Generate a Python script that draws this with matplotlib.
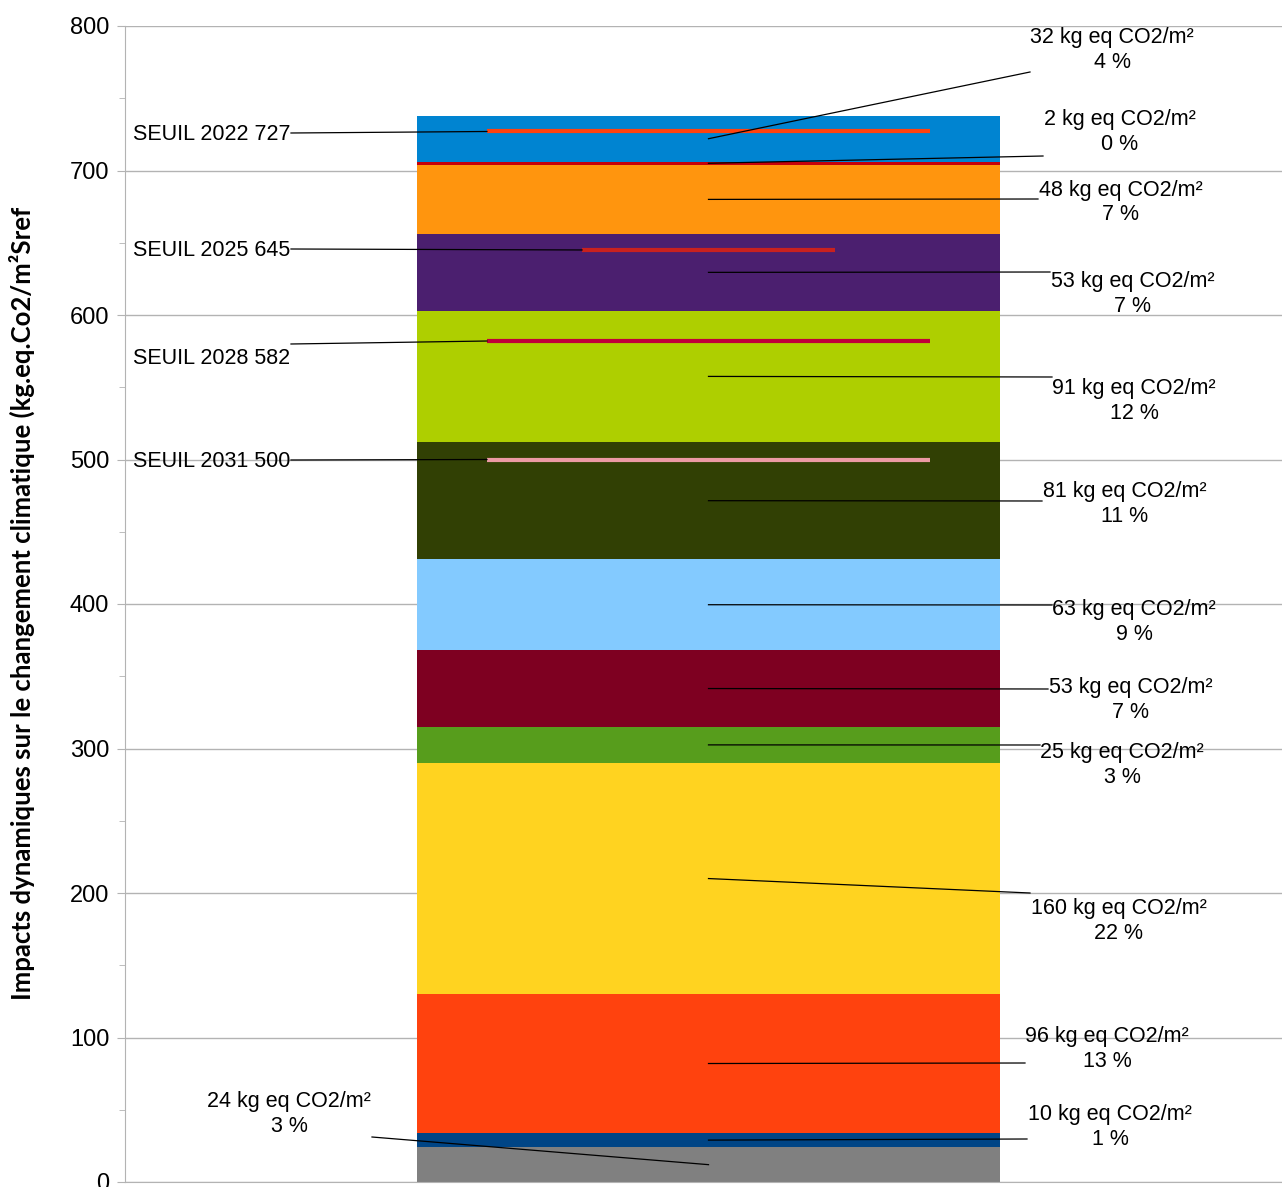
import matplotlib
matplotlib.use("Agg")
import matplotlib.pyplot as plt
from matplotlib.ticker import MultipleLocator

# segment values, bottom to top (kg eq CO2/m²)
values = [24, 10, 96, 160, 25, 53, 63, 81, 91, 53, 48, 2, 32]
percents = [3, 1, 13, 22, 3, 7, 9, 11, 12, 7, 7, 0, 4]
colors = ['#808080', '#004586', '#ff420e', '#ffd320', '#579d1c', '#7e0021',
          '#83caff', '#314004', '#aecf00', '#4b1f6f', '#ff950e', '#c5000b', '#0084d1']

# thresholds
seuil_years = [2022, 2025, 2028, 2031]
seuil_values = [727, 645, 582, 500]
seuil_colors = ['#ff420e', '#c9211e', '#c0003a', '#ec9ba4']
seuil_halfwidth = [0.38, 0.217, 0.38, 0.38]

# label placement (pixel positions in the original picture)
label_pos = [(289, 1112.5), (1110, 1125.5), (1107, 1047.5), (1119, 919.5), (1122, 763.5),
             (1131, 698.5), (1134, 620.5), (1125, 502.5), (1134, 399.5), (1133, 292.5),
             (1121, 201), (1120, 130.5), (1112, 48.5)]
leader_end = [(372, 1137), (1027, 1139), (1025, 1063), (1030, 893), (1040, 745),
              (1048, 689), (1052, 605), (1042, 501), (1052, 377), (1050, 272),
              (1038, 199), (1043, 156), (1030, 72)]
seuil_label_y = [133, 249, 357, 460]


def px_x(px):
    return (px - 708.5) / 583


def px_y(py):
    return (1182 - py) / 1.445


plt.rcParams['font.family'] = ['Liberation Sans', 'DejaVu Sans']

fig = plt.figure(figsize=(12.82, 11.87), dpi=100)
ax = fig.add_axes([125 / 1282, 5 / 1187, 1157 / 1282, 1156 / 1187])

bottom = 0
mids = []
for v, c in zip(values, colors):
    ax.bar(0, v, width=1.0, bottom=bottom, color=c, zorder=2)
    mids.append(bottom + v / 2)
    bottom += v

# segment labels with leader lines
for v, p, mid, (tx, ty), (ex, ey) in zip(values, percents, mids, label_pos, leader_end):
    ax.plot([0, px_x(ex)], [mid, px_y(ey)], color='black', lw=0.9, zorder=4, clip_on=False)
    ax.text(px_x(tx), px_y(ty + 1.5), f"{v} kg eq CO2/m²\n{p} %", ha='center', va='center',
            fontsize=15.5, linespacing=1.2, zorder=5)

# threshold lines
for yr, sv, sc, hw, ly in zip(seuil_years, seuil_values, seuil_colors, seuil_halfwidth, seuil_label_y):
    ax.plot([-hw, hw], [sv, sv], color=sc, lw=3, zorder=3, solid_capstyle='butt')
    ax.text(px_x(133), px_y(ly + 1.5), f"SEUIL {yr} {sv}", ha='left', va='center',
            fontsize=15.5, zorder=5)
    ax.plot([px_x(291), -hw], [px_y(ly) if yr != 2028 else px_y(344), sv],
            color='black', lw=0.9, zorder=4)

ax.set_xlim(px_x(125), px_x(1282))
ax.set_ylim(0, 800)
ax.yaxis.set_major_locator(MultipleLocator(100))
ax.yaxis.set_minor_locator(MultipleLocator(50))
ax.grid(axis='y', color='#b3b3b3', lw=1, zorder=0)
ax.set_axisbelow(True)
for s in ['top', 'right']:
    ax.spines[s].set_visible(False)
for s in ['left', 'bottom']:
    ax.spines[s].set_color('#b3b3b3')
ax.set_xticks([])
ax.tick_params(axis='y', which='major', length=5.8, color='#b3b3b3', labelsize=17, pad=5.5)
ax.tick_params(axis='y', which='minor', length=4.3, color='#b3b3b3')

fig.text(22 / 1282, 1 - 603 / 1187,
         "Impacts dynamiques sur le changement climatique (kg.eq.Co2/m²Sref",
         rotation=90, ha='center', va='center', fontsize=18.5, fontweight='bold',
         family=['Lato', 'DejaVu Sans'])

fig.savefig('out.png', dpi=100)
